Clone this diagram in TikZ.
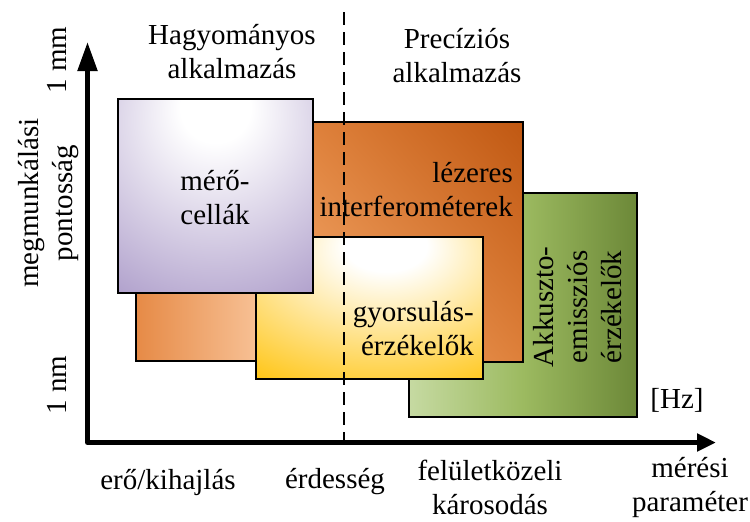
\documentclass[tikz,border=0pt]{standalone}
\usepackage{fontspec}
\setmainfont{Liberation Serif}
\usetikzlibrary{arrows.meta,shadings}
\definecolor{purp}{RGB}{164,146,196}
\definecolor{gold}{RGB}{255,192,0}
\definecolor{lzD}{RGB}{192,88,18}
\definecolor{lzM}{RGB}{222,128,58}
\definecolor{lzL}{RGB}{245,172,112}
\definecolor{loL}{RGB}{230,138,70}
\definecolor{loR}{RGB}{247,192,148}
\definecolor{grnL}{RGB}{198,218,162}
\definecolor{grnM}{RGB}{156,186,96}
\definecolor{grnD}{RGB}{108,136,56}
\pgfdeclareradialshading{purpglow}{\pgfpoint{0bp}{25bp}}{color(0bp)=(white);color(9bp)=(white);color(52bp)=(purp);color(100bp)=(purp)}
\pgfdeclareradialshading{yelglow}{\pgfpoint{4bp}{24bp}}{color(0bp)=(white);color(9bp)=(white);color(50bp)=(gold);color(100bp)=(gold)}
\begin{document}
\begin{tikzpicture}[x=1pt,y=-1pt,
  font=\rmfamily\fontsize{29}{34}\selectfont,
  box/.style={draw=black,line width=2pt},
  lbl/.style={inner sep=0pt,align=center},
  rlbl/.style={inner sep=0pt,align=right},
  axisline/.style={line width=5pt,line join=round}]
\useasboundingbox (0,0) rectangle (750,522);
% boxes
\shadedraw[box,left color=grnL,right color=grnD,middle color=grnM] (409,193) rectangle (637,417);
\shadedraw[box,lower left=lzL,upper right=lzD,upper left=lzM,lower right=lzM] (313,122) rectangle (523,362);
\shadedraw[box,left color=loL,right color=loR] (136,293) rectangle (256,361);
\shadedraw[box,shading=yelglow] (256,237) rectangle (483,379);
\shadedraw[box,shading=purpglow] (118,99) rectangle (313,293);
% dashed divider
\coordinate (dtop) at (344,12);
\coordinate (dbot) at (344,440);
\draw[line width=2pt,dash pattern=on 13pt off 7pt] (dtop) -- (dbot);
% axes
\coordinate (ytip) at (87.5,42);
\coordinate (O) at (87.5,442.5);
\coordinate (xtip) at (716,442.5);
\draw[axisline,{Triangle[length=29pt,width=19pt]}-{Triangle[length=19pt,width=17pt]}] (ytip) -- (O) -- (xtip);
% box labels
\node[lbl] (mero) at (215,198) {mérő-\\cellák};
\node[rlbl,anchor=east] (lez) at (513,190) {lézeres\\interferométerek};
\node[rlbl,anchor=east] (gyors) at (474,329) {gyorsulás-\\érzékelők};
\node[lbl,rotate=90] (akku) at (578,307) {Akkuszto-\\emissziós\\érzékelők};
% region labels
\node[lbl] (hagy) at (232,52) {Hagyományos\\alkalmazás};
\node[lbl] (prec) at (457,56) {Precíziós\\alkalmazás};
% y axis labels
\node[lbl,rotate=90] (ymm) at (57,60) {1 mm};
\node[lbl,rotate=90] (ynm) at (57,385) {1 nm};
\node[lbl,rotate=90] (ylab) at (49,203) {megmunkálási\\pontosság};
% x axis labels
\node[lbl] (x1) at (168,482) {erő/kihajlás};
\node[lbl] (x2) at (335,482) {érdesség};
\node[lbl] (x3) at (490,487) {felületközeli\\károsodás};
\node[lbl] (x4) at (690,487) {mérési\\paraméter};
\node[lbl] (hz) at (677,400) {[Hz]};
\end{tikzpicture}
\end{document}
